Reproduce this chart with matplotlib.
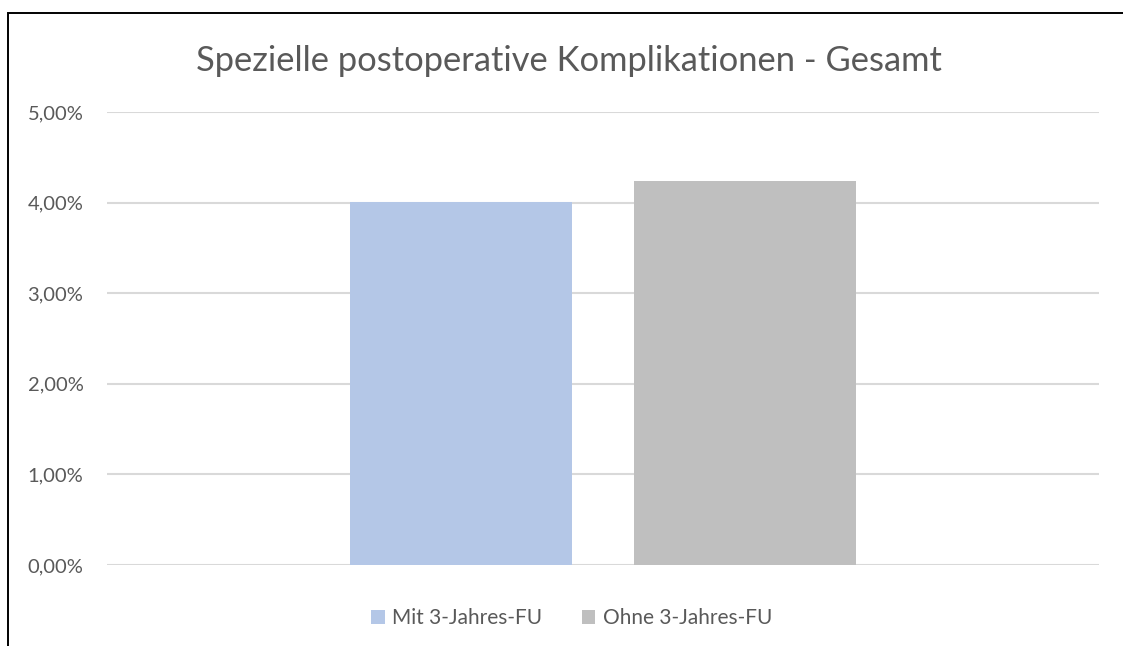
import matplotlib
matplotlib.use("Agg")
import matplotlib.pyplot as plt
from matplotlib.patches import Rectangle
from matplotlib.ticker import FuncFormatter

plt.rcParams['font.family'] = ['Lato', 'DejaVu Sans']

title = "Spezielle postoperative Komplikationen - Gesamt"
series = ["Mit 3-Jahres-FU", "Ohne 3-Jahres-FU"]
values = [0.0401, 0.0424]
colors = ["#b4c7e7", "#bfbfbf"]
yticks = [0.0, 0.01, 0.02, 0.03, 0.04, 0.05]

text_color = "#595959"
grid_color = "#d9d9d9"

fig = plt.figure(figsize=(11.23, 6.46), dpi=100)
ax = fig.add_axes([0.0953, 0.1254, 0.8833, 0.7012])

# one category, two clustered bars (Excel-like gap width)
bar_w = 0.224
gap = 0.062
n = len(values)
start = 0.5 - (n * bar_w + (n - 1) * gap) / 2
for i, (v, c) in enumerate(zip(values, colors)):
    ax.bar(start + i * (bar_w + gap) + bar_w / 2, v, width=bar_w, color=c,
           label=series[i], zorder=3)

ax.set_xlim(0, 1)
ax.set_ylim(0, 0.05)
ax.set_yticks(yticks)
ax.yaxis.set_major_formatter(FuncFormatter(lambda y, _: f"{y * 100:.2f}%".replace(".", ",")))
ax.set_xticks([])
ax.grid(axis='y', color=grid_color, linewidth=1.5, zorder=0)
ax.tick_params(axis='y', length=0, pad=17, labelsize=14.5, labelcolor=text_color)
for s in ax.spines.values():
    s.set_visible(False)

fig.text(0.507, 0.905, title, ha='center', va='center', fontsize=24.8, color=text_color)

leg = fig.legend(loc='center', bbox_to_anchor=(0.509, 0.043), ncol=2, frameon=False,
                 fontsize=15, handlelength=0.65, handleheight=0.65, handletextpad=0.35,
                 columnspacing=1.9)
for t in leg.get_texts():
    t.set_color(text_color)

# chart area border (right and bottom edges are cut off in the original)
fig.patches.append(Rectangle((8 / 1123, -0.1), 1.2, 0.1 + (646 - 12.5) / 646,
                             transform=fig.transFigure, fill=False,
                             edgecolor='black', linewidth=1.4))

fig.savefig("out.png", dpi=100)
